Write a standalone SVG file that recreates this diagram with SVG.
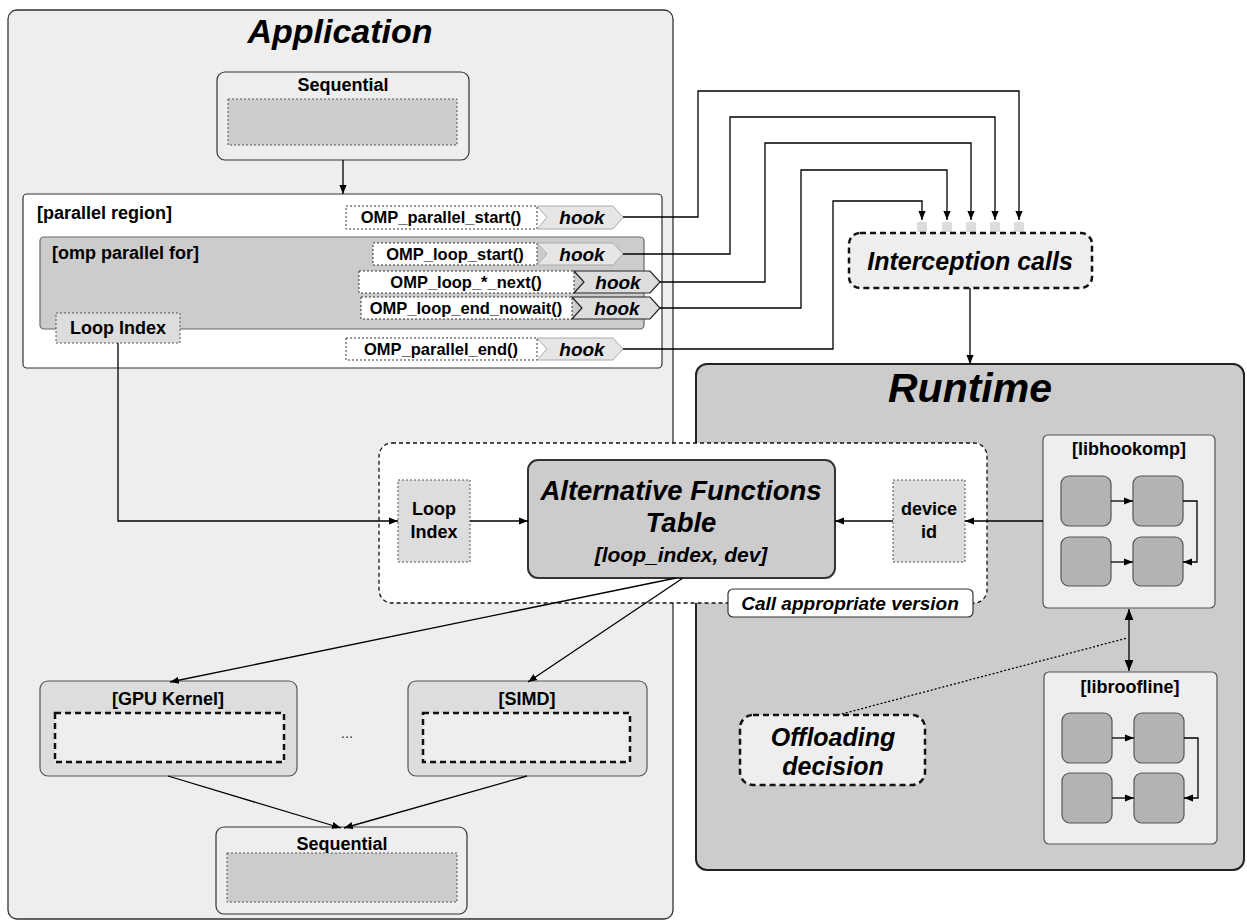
<svg xmlns="http://www.w3.org/2000/svg" width="1247" height="922" viewBox="0 0 1247 922">
  <defs>
    <marker id="arr" viewBox="0 0 10 10" refX="10" refY="5" markerWidth="9" markerHeight="9" markerUnits="userSpaceOnUse" orient="auto">
      <path d="M0,1 L10,5 L0,9 Z" fill="#000"/>
    </marker>
    <marker id="arrB" viewBox="0 0 10 10" refX="10" refY="5" markerWidth="11" markerHeight="11" markerUnits="userSpaceOnUse" orient="auto-start-reverse">
      <path d="M0,1 L10,5 L0,9 Z" fill="#000"/>
    </marker>
    <style>
      .t { font-family: "Liberation Sans", Arial, sans-serif; font-weight: bold; fill: #000; }
      .c { text-anchor: middle; }
      .i { font-style: italic; }
      .lbl { font-size: 18px; }
      .fn { font-size: 16.5px; }
      .dot { fill: #ffffff; stroke: #333; stroke-width: 1; stroke-dasharray: 2 2; }
      .dotg { fill: #cccccc; stroke: #555; stroke-width: 1; stroke-dasharray: 2 2; }
      .dotl { fill: #dddddd; stroke: #555; stroke-width: 1; stroke-dasharray: 2 2; }
      .dash { stroke: #111; stroke-width: 2.5; stroke-dasharray: 6 4; }
      .hookL { fill: #e6e6e6; stroke: #aaa; stroke-width: 1; }
      .hookD { fill: #dddddd; stroke: #222; stroke-width: 1.2; }
      .mini { fill: #b3b3b3; stroke: #555; stroke-width: 1.2; }
      .ln { fill: none; stroke: #000; stroke-width: 1.3; }
      .port { fill: #dddddd; }
    </style>
  </defs>

  <rect width="1247" height="922" fill="#ffffff"/>

  <!-- Application container -->
  <g id="application">
    <rect x="8" y="10" width="665" height="909" rx="9" fill="#eeeeee" stroke="#333" stroke-width="1.3"/>
    <text class="t c i" x="340" y="43" font-size="34">Application</text>
  </g>

  <!-- Runtime container -->
  <g id="runtime">
    <rect x="696" y="364" width="548" height="506" rx="11" fill="#cccccc" stroke="#222" stroke-width="2"/>
    <text class="t c i" x="970" y="402" font-size="41">Runtime</text>
  </g>

  <!-- Sequential (top) -->
  <g id="seq-top">
    <rect x="217" y="72" width="252" height="88" rx="8" fill="#eeeeee" stroke="#333" stroke-width="1.2"/>
    <text class="t c lbl" x="343" y="91">Sequential</text>
    <rect class="dotg" x="228" y="99" width="229" height="46"/>
  </g>

  <!-- Parallel region -->
  <g id="parallel-region">
    <rect x="23" y="194" width="639" height="174" rx="4" fill="#ffffff" stroke="#333" stroke-width="1.2"/>
    <text class="t lbl" x="37" y="219">[parallel region]</text>
  </g>

  <!-- omp parallel for -->
  <g id="omp-for">
    <rect x="40" y="237" width="604" height="92" rx="4" fill="#cccccc" stroke="#666" stroke-width="1.2"/>
    <text class="t lbl" x="52" y="259">[omp parallel for]</text>
  </g>

  <g id="loop-index-app">
    <rect class="dotl" x="56" y="313" width="124" height="30"/>
    <text class="t c lbl" x="118" y="334">Loop Index</text>
  </g>

  <!-- OpenMP entry points and their hooks -->
  <g id="omp-parallel-start">
    <rect class="dot" x="346" y="206" width="191" height="23"/>
    <text class="t c fn" x="441" y="223">OMP_parallel_start()</text>
    <polygon class="hookL" points="537,206 613,206 623,217.5 613,229 537,229 547,217.5"/>
    <text class="t c i" x="582" y="224" font-size="19">hook</text>
  </g>

  <g id="omp-loop-start">
    <rect class="dot" x="373" y="243" width="164" height="22"/>
    <text class="t c fn" x="455" y="260">OMP_loop_start()</text>
    <polygon class="hookL" points="537,243 613,243 623,254 613,265 537,265 547,254"/>
    <text class="t c i" x="582" y="261" font-size="19">hook</text>
  </g>

  <g id="omp-loop-next">
    <rect class="dot" x="359" y="271" width="215" height="22"/>
    <text class="t c fn" x="466" y="288">OMP_loop_*_next()</text>
    <polygon class="hookD" points="574,271 650,271 660,282 650,293 574,293 584,282"/>
    <text class="t c i" x="618" y="289" font-size="19">hook</text>
  </g>

  <g id="omp-loop-end-nowait">
    <rect class="dot" x="361" y="297" width="211" height="22"/>
    <text class="t c fn" x="466" y="314">OMP_loop_end_nowait()</text>
    <polygon class="hookD" points="572,297 650,297 660,308 650,319 572,319 582,308"/>
    <text class="t c i" x="617" y="315" font-size="19">hook</text>
  </g>

  <g id="omp-parallel-end">
    <rect class="dot" x="346" y="338" width="191" height="22"/>
    <text class="t c fn" x="441" y="355">OMP_parallel_end()</text>
    <polygon class="hookL" points="537,338 613,338 623,349 613,360 537,360 547,349"/>
    <text class="t c i" x="582" y="356" font-size="19">hook</text>
  </g>

  <!-- Interception calls -->
  <g id="interception">
    <rect class="port" x="917" y="222" width="10" height="10"/>
    <rect class="port" x="942" y="222" width="10" height="10"/>
    <rect class="port" x="966" y="222" width="10" height="10"/>
    <rect class="port" x="990" y="222" width="10" height="10"/>
    <rect class="port" x="1014" y="222" width="10" height="10"/>
    <rect class="dash" x="849" y="233" width="243" height="55" rx="11" fill="#eeeeee"/>
    <text class="t c i" x="970" y="270" font-size="25">Interception calls</text>
  </g>

  <!-- Alternative functions table group -->
  <g id="aft-group">
    <rect x="379" y="443" width="608" height="160" rx="13" fill="#ffffff" stroke="#111" stroke-width="1.3" stroke-dasharray="4 3"/>
  </g>

  <g id="loop-index-table">
    <rect class="dotl" x="398" y="480" width="72" height="82"/>
    <text class="t c lbl" x="434" y="515">Loop</text>
    <text class="t c lbl" x="434" y="538">Index</text>
  </g>

  <g id="aft">
    <rect x="528" y="460" width="307" height="118" rx="10" fill="#cccccc" stroke="#333" stroke-width="2"/>
    <text class="t c i" x="681" y="500" font-size="27.5">Alternative Functions</text>
    <text class="t c i" x="681" y="532" font-size="27.5">Table</text>
    <text class="t c i" x="681" y="562" font-size="21">[loop_index, dev]</text>
  </g>

  <g id="device-id">
    <rect class="dotl" x="893" y="480" width="72" height="82"/>
    <text class="t c lbl" x="929" y="515">device</text>
    <text class="t c lbl" x="929" y="538">id</text>
  </g>

  <g id="call-version">
    <rect x="728" y="589" width="245" height="28" rx="5" fill="#ffffff" stroke="#333" stroke-width="1.2"/>
    <text class="t c i" x="850" y="610" font-size="19">Call appropriate version</text>
  </g>

  <!-- Code versions -->
  <g id="gpu-kernel">
    <rect x="40" y="681" width="257" height="95" rx="8" fill="#dddddd" stroke="#555" stroke-width="1.2"/>
    <text class="t c lbl" x="168" y="705">[GPU Kernel]</text>
    <rect class="dash" x="55" y="713" width="229" height="49" fill="#eeeeee"/>
  </g>

  <g id="simd">
    <rect x="408" y="681" width="239" height="95" rx="8" fill="#dddddd" stroke="#555" stroke-width="1.2"/>
    <text class="t c lbl" x="527" y="705">[SIMD]</text>
    <rect class="dash" x="423" y="713" width="207" height="49" fill="#eeeeee"/>
  </g>

  <text class="c" x="347" y="738" font-family="Liberation Sans, Arial, sans-serif" font-size="15" fill="#333">...</text>

  <!-- Sequential (bottom) -->
  <g id="seq-bottom">
    <rect x="216" y="827" width="251" height="87" rx="8" fill="#eeeeee" stroke="#333" stroke-width="1.2"/>
    <text class="t c lbl" x="342" y="850">Sequential</text>
    <rect class="dotg" x="227" y="853" width="230" height="49"/>
  </g>

  <!-- libhookomp -->
  <g id="libhookomp">
    <rect x="1043" y="435" width="172" height="173" rx="5" fill="#eeeeee" stroke="#555" stroke-width="1.2"/>
    <text class="t c lbl" x="1129" y="455">[libhookomp]</text>
    <rect class="mini" x="1061" y="476" width="50" height="50" rx="8"/>
    <rect class="mini" x="1133" y="476" width="50" height="50" rx="8"/>
    <rect class="mini" x="1061" y="537" width="50" height="49" rx="8"/>
    <rect class="mini" x="1133" y="537" width="50" height="49" rx="8"/>
    <line class="ln" x1="1111" y1="501" x2="1133" y2="501" stroke-width="1" marker-end="url(#arr)"/>
    <line class="ln" x1="1111" y1="562" x2="1133" y2="562" stroke-width="1" marker-end="url(#arr)"/>
    <polyline class="ln" points="1183,501 1197,501 1197,562 1183,562" stroke-width="1" marker-end="url(#arr)"/>
  </g>

  <!-- libroofline -->
  <g id="libroofline">
    <rect x="1044" y="672" width="173" height="172" rx="5" fill="#eeeeee" stroke="#555" stroke-width="1.2"/>
    <text class="t c lbl" x="1130" y="693">[libroofline]</text>
    <rect class="mini" x="1062" y="713" width="50" height="50" rx="8"/>
    <rect class="mini" x="1134" y="713" width="50" height="50" rx="8"/>
    <rect class="mini" x="1062" y="773" width="50" height="50" rx="8"/>
    <rect class="mini" x="1134" y="773" width="50" height="50" rx="8"/>
    <line class="ln" x1="1112" y1="738" x2="1134" y2="738" stroke-width="1" marker-end="url(#arr)"/>
    <line class="ln" x1="1112" y1="798" x2="1134" y2="798" stroke-width="1" marker-end="url(#arr)"/>
    <polyline class="ln" points="1184,738 1198,738 1198,798 1184,798" stroke-width="1" marker-end="url(#arr)"/>
  </g>

  <!-- Offloading decision -->
  <g id="offloading">
    <rect class="dash" x="740" y="715" width="185" height="70" rx="13" fill="#eeeeee"/>
    <text class="t c i" x="833" y="746" font-size="25">Offloading</text>
    <text class="t c i" x="833" y="775" font-size="25">decision</text>
  </g>

  <!-- Connectors -->
  <g id="connectors">
    <line class="ln" x1="343" y1="160" x2="343" y2="194" marker-end="url(#arr)"/>

    <polyline class="ln" points="623,217 698,217 698,91 1019,91 1019,220" marker-end="url(#arr)"/>
    <polyline class="ln" points="623,254 730,254 730,117 995,117 995,220" marker-end="url(#arr)"/>
    <polyline class="ln" points="660,282 765,282 765,143 971,143 971,220" marker-end="url(#arr)"/>
    <polyline class="ln" points="660,308 801,308 801,170 947,170 947,220" marker-end="url(#arr)"/>
    <polyline class="ln" points="623,349 833,349 833,201 922,201 922,220" marker-end="url(#arr)"/>

    <line class="ln" x1="970" y1="288" x2="970" y2="364" marker-end="url(#arr)"/>

    <polyline class="ln" points="118,343 118,521 398,521" marker-end="url(#arr)"/>
    <line class="ln" x1="470" y1="521" x2="528" y2="521" marker-end="url(#arr)"/>
    <line class="ln" x1="893" y1="521" x2="835" y2="521" marker-end="url(#arr)"/>
    <line class="ln" x1="1043" y1="521" x2="965" y2="521" marker-end="url(#arr)"/>

    <line class="ln" x1="676" y1="578" x2="170" y2="682" marker-end="url(#arr)"/>
    <line class="ln" x1="683" y1="578" x2="528" y2="682" marker-end="url(#arr)"/>

    <line class="ln" x1="168" y1="776" x2="341" y2="828" marker-end="url(#arr)"/>
    <line class="ln" x1="527" y1="776" x2="344" y2="828" marker-end="url(#arr)"/>

    <line class="ln" x1="1129" y1="609" x2="1129" y2="671" stroke-width="2" marker-start="url(#arrB)" marker-end="url(#arrB)"/>
    <line class="ln" x1="838" y1="715" x2="1127" y2="638" stroke-dasharray="2 2"/>
  </g>
</svg>
